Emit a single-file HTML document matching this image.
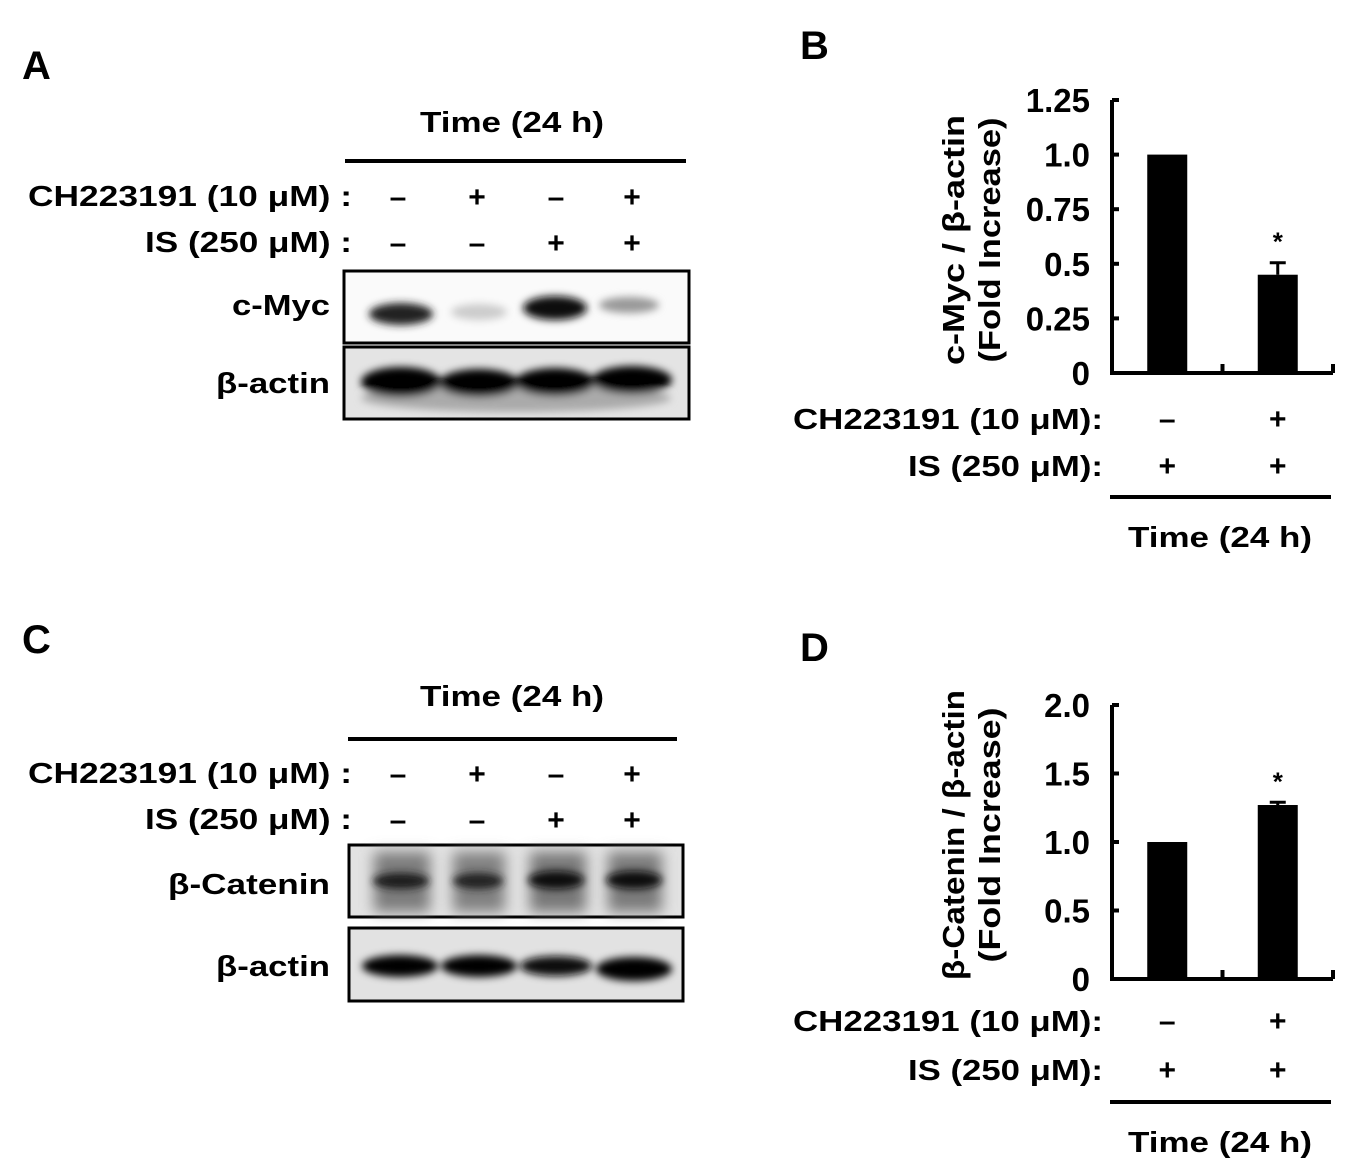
<!DOCTYPE html>
<html><head><meta charset="utf-8">
<style>
html,body{margin:0;padding:0;background:#fff;}
svg{display:block;font-family:"Liberation Sans",Arial,sans-serif;font-weight:bold;}
</style></head>
<body>
<svg id="fig" width="1350" height="1173" viewBox="0 0 1350 1173" xmlns="http://www.w3.org/2000/svg">
<defs>
<filter id="blur4" x="-30%" y="-80%" width="160%" height="260%"><feGaussianBlur stdDeviation="4"/></filter>
<filter id="blur7" x="-30%" y="-80%" width="160%" height="260%"><feGaussianBlur stdDeviation="7"/></filter>
</defs>

<text x="22" y="79" font-size="40">A</text>
<text x="800" y="59" font-size="40">B</text>
<text x="22" y="653" font-size="40">C</text>
<text x="800" y="661" font-size="40">D</text>

<g>
<text x="420" y="132" font-size="29" textLength="184" lengthAdjust="spacingAndGlyphs">Time (24 h)</text>
<line x1="345" y1="161" x2="686" y2="161" stroke="#000" stroke-width="4"/>
<text x="28" y="206" font-size="29" textLength="324" lengthAdjust="spacingAndGlyphs">CH223191 (10 μM) :</text>
<text x="145" y="252" font-size="29" textLength="207" lengthAdjust="spacingAndGlyphs">IS (250 μM) :</text>
<g font-size="30" text-anchor="middle">
<text x="398" y="207">–</text><text x="477" y="207">+</text><text x="556" y="207">–</text><text x="632" y="207">+</text>
<text x="398" y="253">–</text><text x="477" y="253">–</text><text x="556" y="253">+</text><text x="632" y="253">+</text>
</g>
<text x="232" y="315" font-size="29" textLength="98" lengthAdjust="spacingAndGlyphs">c-Myc</text>
<text x="216" y="393" font-size="29" textLength="114" lengthAdjust="spacingAndGlyphs">β-actin</text>
<g>
<rect x="344" y="271" width="345" height="72" fill="#fafafa" stroke="#000" stroke-width="3"/>
<g filter="url(#blur4)">
<ellipse cx="401" cy="314" rx="32" ry="11" fill="#222"/>
<ellipse cx="479" cy="312" rx="28" ry="8" fill="#ccc"/>
<ellipse cx="555" cy="308" rx="32" ry="12" fill="#111"/>
<ellipse cx="629" cy="305" rx="30" ry="8" fill="#999"/>
</g>
</g>
<g>
<rect x="344" y="347" width="345" height="72" fill="#e4e4e4" stroke="#000" stroke-width="3"/>
<g filter="url(#blur4)">
<ellipse cx="516" cy="398" rx="155" ry="14" fill="#aaa"/>
<ellipse cx="401" cy="382" rx="40" ry="15" fill="#000"/>
<ellipse cx="479" cy="383" rx="40" ry="14" fill="#000"/>
<ellipse cx="555" cy="382" rx="40" ry="14" fill="#000"/>
<ellipse cx="632" cy="380" rx="40" ry="14" fill="#000"/>
</g>
</g>
</g>

<g>
<text x="420" y="706" font-size="29" textLength="184" lengthAdjust="spacingAndGlyphs">Time (24 h)</text>
<line x1="348" y1="739" x2="677" y2="739" stroke="#000" stroke-width="4"/>
<text x="28" y="783" font-size="29" textLength="324" lengthAdjust="spacingAndGlyphs">CH223191 (10 μM) :</text>
<text x="145" y="829" font-size="29" textLength="207" lengthAdjust="spacingAndGlyphs">IS (250 μM) :</text>
<g font-size="30" text-anchor="middle">
<text x="398" y="784">–</text><text x="477" y="784">+</text><text x="556" y="784">–</text><text x="632" y="784">+</text>
<text x="398" y="830">–</text><text x="477" y="830">–</text><text x="556" y="830">+</text><text x="632" y="830">+</text>
</g>
<text x="168" y="894" font-size="29" textLength="162" lengthAdjust="spacingAndGlyphs">β-Catenin</text>
<text x="216" y="976" font-size="29" textLength="114" lengthAdjust="spacingAndGlyphs">β-actin</text>
<g>
<rect x="349" y="845" width="334" height="72" fill="#e2e2e2" stroke="#000" stroke-width="3"/>
<g filter="url(#blur7)">
<rect x="374" y="852" width="56" height="60" fill="#7c7c7c"/>
<rect x="453" y="852" width="52" height="60" fill="#808080"/>
<rect x="530" y="852" width="56" height="60" fill="#777"/>
<rect x="608" y="852" width="54" height="60" fill="#7a7a7a"/>
</g>
<g filter="url(#blur4)">
<ellipse cx="401" cy="881" rx="28" ry="8" fill="#1a1a1a"/>
<ellipse cx="478" cy="881" rx="25" ry="8" fill="#222"/>
<ellipse cx="556" cy="880" rx="28" ry="9" fill="#0a0a0a"/>
<ellipse cx="634" cy="880" rx="28" ry="9" fill="#111"/>
</g>
</g>
<g>
<rect x="349" y="928" width="334" height="73" fill="#e2e2e2" stroke="#000" stroke-width="3"/>
<g filter="url(#blur4)">
<ellipse cx="400" cy="966" rx="38" ry="11" fill="#000"/>
<ellipse cx="479" cy="966" rx="38" ry="11" fill="#000"/>
<ellipse cx="556" cy="966" rx="36" ry="10" fill="#0a0a0a"/>
<ellipse cx="634" cy="969" rx="38" ry="12" fill="#000"/>
</g>
</g>
</g>

<g id="chartB"></g>
<g id="chartD"></g>
</svg>

<script>
// Panel B data
const bCategories = ["IS", "IS + CH223191"];
const bValues = [1.0, 0.45];
const bErrors = [0, 0.055];
const bTicks = [0, 0.25, 0.5, 0.75, 1.0, 1.25];
const bTickLabels = ["0", "0.25", "0.5", "0.75", "1.0", "1.25"];
const bSig = [false, true];
// Panel D data
const dCategories = ["IS", "IS + CH223191"];
const dValues = [1.0, 1.27];
const dErrors = [0, 0.02];
const dTicks = [0, 0.5, 1.0, 1.5, 2.0];
const dTickLabels = ["0", "0.5", "1.0", "1.5", "2.0"];
const dSig = [false, true];
const chSigns = ["–", "+"];
const isSigns = ["+", "+"];

const NS = "http://www.w3.org/2000/svg";
function mk(parent, tag, attrs, text) {
  const e = document.createElementNS(NS, tag);
  for (const k in attrs) e.setAttribute(k, attrs[k]);
  if (text !== undefined) e.textContent = text;
  parent.appendChild(e);
  return e;
}

function drawChart(g, cfg) {
  const y = v => cfg.y0 - (v - cfg.min) / (cfg.max - cfg.min) * (cfg.y0 - cfg.yTop);
  const slot = (cfg.xR - cfg.xL) / cfg.cats.length;
  const xc = i => cfg.xL + slot * (i + 0.5);
  let ax = mk(g, "path", {d: `M${cfg.xL} ${cfg.yTop} V${cfg.y0} H${cfg.xR}`, fill: "none", stroke: "#000", "stroke-width": 4});
  
  
  cfg.ticks.forEach((t, i) => {
    const tl = mk(g, "line", {x1: cfg.xL, x2: cfg.xL + 7, y1: y(t), y2: y(t), stroke: "#000", "stroke-width": 4});
    
    
    const tx = mk(g, "text", {x: cfg.xL - 22, y: y(t) + 12, "font-size": 33, "text-anchor": "end"}, cfg.tickLabels[i]);
    
    
  });
  for (let i = 1; i <= cfg.cats.length; i++) {
    const xt = mk(g, "line", {x1: cfg.xL + slot * i, x2: cfg.xL + slot * i, y1: cfg.y0, y2: cfg.y0 - 9, stroke: "#000", "stroke-width": 4});
    
    
  }
  cfg.vals.forEach((v, i) => {
    const bw = 40;
    const b = mk(g, "rect", {x: xc(i) - bw / 2, y: y(v), width: bw, height: cfg.y0 - y(v), fill: "#000"});
    
    
    if (cfg.errs[i] > 0) {
      const e = mk(g, "path", {d: `M${xc(i)} ${y(v)} V${y(v + cfg.errs[i])} M${xc(i) - 8} ${y(v + cfg.errs[i])} H${xc(i) + 8}`, stroke: "#000", "stroke-width": 3, fill: "none"});
      
      
    }
    if (cfg.sig[i]) {
      const s = mk(g, "text", {x: xc(i), y: y(v + cfg.errs[i]) - 12, "font-size": 26, "text-anchor": "middle"}, "*");
      
      
    }
    const c = mk(g, "text", {x: xc(i), y: cfg.chY, "font-size": 30, "text-anchor": "middle"}, chSigns[i]);
    
    
    const s2 = mk(g, "text", {x: xc(i), y: cfg.isY, "font-size": 30, "text-anchor": "middle"}, isSigns[i]);
    
    
  });
  const l1 = mk(g, "text", {x: 793, y: cfg.chY, "font-size": 29, textLength: 310, lengthAdjust: "spacingAndGlyphs"}, "CH223191 (10 μM):");
  
  
  const l2 = mk(g, "text", {x: 908, y: cfg.isY, "font-size": 29, textLength: 195, lengthAdjust: "spacingAndGlyphs"}, "IS (250 μM):");
  
  
  const ln = mk(g, "line", {x1: 1110, x2: 1331, y1: cfg.lineY, y2: cfg.lineY, stroke: "#000", "stroke-width": 4});
  
  
  const tt = mk(g, "text", {x: 1128, y: cfg.lineY + 50, "font-size": 29, textLength: 184, lengthAdjust: "spacingAndGlyphs"}, "Time (24 h)");
  
  
  const t1 = mk(g, "text", {x: 0, y: 0, "font-size": 31, "text-anchor": "middle", textLength: cfg.t1Len, lengthAdjust: "spacingAndGlyphs", transform: `translate(964 ${cfg.tCy}) rotate(-90)`}, cfg.title1);
  
  
  const t2 = mk(g, "text", {x: 0, y: 0, "font-size": 31, "text-anchor": "middle", textLength: cfg.t2Len, lengthAdjust: "spacingAndGlyphs", transform: `translate(1000 ${cfg.tCy}) rotate(-90)`}, "(Fold Increase)");
  
  
}

drawChart(document.getElementById("chartB"), {
  cats: bCategories, vals: bValues, errs: bErrors, ticks: bTicks, tickLabels: bTickLabels, sig: bSig,
  min: 0, max: 1.25, xL: 1112, xR: 1333, y0: 373, yTop: 100,
  chY: 429, isY: 476, lineY: 497, title1: "c-Myc / β-actin", tCy: 240, t1Len: 250, t2Len: 245
});
drawChart(document.getElementById("chartD"), {
  cats: dCategories, vals: dValues, errs: dErrors, ticks: dTicks, tickLabels: dTickLabels, sig: dSig,
  min: 0, max: 2.0, xL: 1112, xR: 1333, y0: 979, yTop: 705,
  chY: 1031, isY: 1080, lineY: 1102, title1: "β-Catenin / β-actin", tCy: 835, t1Len: 290, t2Len: 255
});
</script>
</body></html>
